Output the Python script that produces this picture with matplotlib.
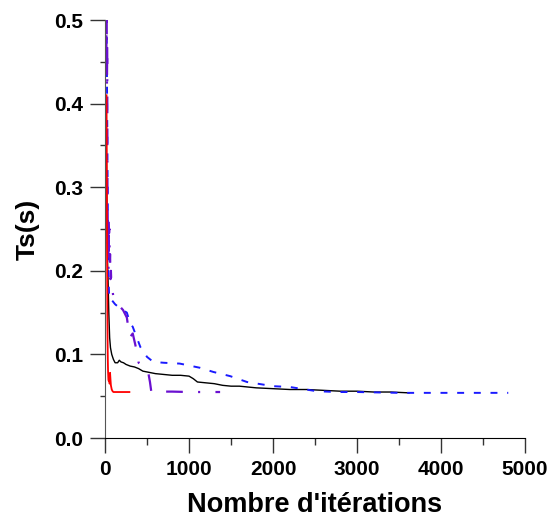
import matplotlib
matplotlib.use('Agg')
import matplotlib.pyplot as plt
from matplotlib.ticker import MultipleLocator, FormatStrFormatter

plt.rcParams['font.family'] = ['Liberation Sans', 'DejaVu Sans']
plt.rcParams['font.weight'] = 'bold'
plt.rcParams['lines.scale_dashes'] = False

# red series (fastest convergence)
red_x = [18, 20, 22, 24, 26, 28, 30, 33, 36, 40, 45, 50, 55, 60, 65, 70, 80, 90, 100, 120, 150, 200, 250, 290]
red_y = [0.41, 0.36, 0.30, 0.24, 0.19, 0.15, 0.12, 0.095, 0.08, 0.07, 0.068, 0.072, 0.065, 0.078, 0.07,
         0.063, 0.058, 0.056, 0.055, 0.055, 0.055, 0.055, 0.055, 0.055]

# black series
black_x = [15, 20, 25, 30, 36, 45, 55, 65, 80, 100, 120, 150, 170, 190, 220, 250, 300, 350, 400, 450,
           500, 600, 700, 800, 900, 1000, 1050, 1100, 1200, 1300, 1400, 1500, 1600, 1800, 2000, 2200,
           2400, 2600, 2800, 3000, 3200, 3400, 3620]
black_y = [0.35, 0.30, 0.25, 0.21, 0.19, 0.15, 0.12, 0.108, 0.100, 0.094, 0.090, 0.090, 0.093, 0.091,
           0.090, 0.088, 0.086, 0.085, 0.083, 0.080, 0.079, 0.077, 0.076, 0.075, 0.075, 0.074, 0.071,
           0.067, 0.066, 0.065, 0.063, 0.062, 0.062, 0.060, 0.059, 0.058, 0.058, 0.057, 0.056, 0.056,
           0.055, 0.055, 0.054]

# blue dashed series
blue_x = [20, 25, 30, 35, 40, 50, 80, 120, 180, 260, 300, 330, 420, 500, 575, 700, 890, 1130, 1290,
          1490, 1690, 2000, 2200, 2520, 2760, 3000, 3500, 4000, 4500, 4800]
blue_y = [0.48, 0.40, 0.32, 0.25, 0.20, 0.165, 0.165, 0.16, 0.155, 0.150, 0.137, 0.133, 0.109, 0.097,
          0.091, 0.090, 0.089, 0.084, 0.079, 0.074, 0.067, 0.062, 0.061, 0.056, 0.055, 0.055, 0.054,
          0.054, 0.054, 0.054]

# purple dash-dot series
purple_x = [14, 17, 20, 23, 26, 29, 32, 35, 38, 41, 44, 48, 52, 56, 60, 65, 70, 75, 85, 100, 120, 180,
            215, 260, 270, 300, 330, 380, 400, 450, 510, 535, 550, 600, 800, 1000, 1200, 1370]
purple_y = [0.52, 0.46, 0.50, 0.42, 0.47, 0.30, 0.26, 0.22, 0.25, 0.20, 0.26, 0.245, 0.25, 0.21,
            0.22, 0.19, 0.20, 0.185, 0.18, 0.168, 0.165, 0.157, 0.153, 0.144, 0.137, 0.121, 0.125,
            0.103, 0.090, 0.087, 0.081, 0.067, 0.056, 0.0555, 0.0555, 0.055, 0.055, 0.055]

fig = plt.figure(figsize=(5.51, 5.17), dpi=100)
ax = fig.add_axes([0.1906, 0.1528, 0.7623, 0.8085])

ax.plot(black_x, black_y, color='black', lw=1.0)
ax.plot(blue_x, blue_y, color='#1a1aff', lw=1.4, linestyle=(0, (5, 7)))
ax.plot(purple_x, purple_y, color='#6a10d0', lw=1.6, linestyle=(0, (12, 11, 12, 11, 1.5, 11)))
ax.plot(red_x, red_y, color='#ff0000', lw=1.3)

ax.set_xlim(0, 5000)
ax.set_ylim(0, 0.5)
ax.xaxis.set_major_locator(MultipleLocator(1000))
ax.xaxis.set_minor_locator(MultipleLocator(500))
ax.yaxis.set_major_locator(MultipleLocator(0.1))
ax.yaxis.set_minor_locator(MultipleLocator(0.05))
ax.yaxis.set_major_formatter(FormatStrFormatter('%.1f'))

ax.spines['top'].set_visible(False)
ax.spines['right'].set_visible(False)
ax.spines['left'].set_color('#555555')
ax.tick_params(axis='x', which='major', direction='out', length=10.5, width=1, labelsize=15, pad=5, color='#333333')
ax.tick_params(axis='x', which='minor', direction='out', length=5, width=1, color='#333333')
ax.tick_params(axis='y', which='major', direction='out', length=10.8, width=1, labelsize=15, pad=5, color='#333333')
ax.tick_params(axis='y', which='minor', direction='out', length=3.6, width=1, color='#333333')

ax.set_xlabel("Nombre d'itérations", fontsize=19.5, fontweight='bold', labelpad=10)
ax.set_ylabel('Ts(s)', fontsize=19, fontweight='bold', labelpad=10)

fig.savefig('out.png', dpi=100)
